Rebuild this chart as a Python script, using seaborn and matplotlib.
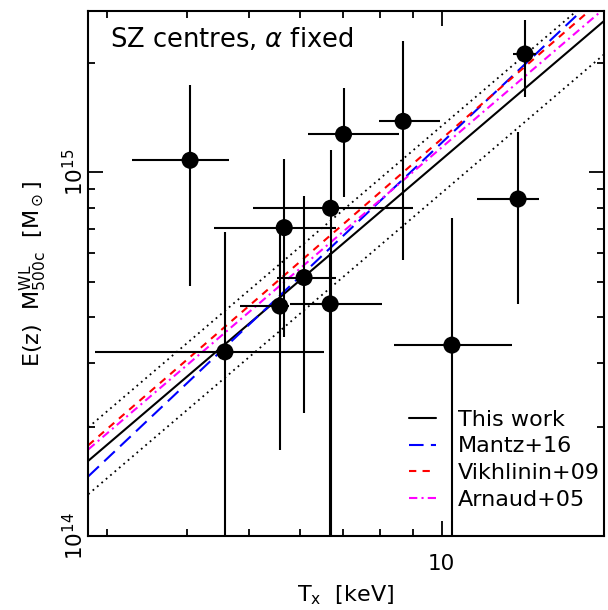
import numpy as np
import pandas as pd
import matplotlib
matplotlib.use("Agg")
import matplotlib.pyplot as plt
import matplotlib.ticker as mticker
import seaborn as sns

# cluster data: T_x [keV] with lower/upper bounds, mass [1e14 Msun] with lower/upper bounds
t_x = [4.04, 4.58, 5.58, 5.67, 6.09, 6.70, 6.69, 7.02, 8.70, 13.16, 10.37, 13.49]
t_lo = [3.28, 2.87, 4.84, 4.41, 5.53, 5.07, 5.78, 6.17, 7.98, 11.37, 8.42, 12.90]
t_hi = [4.65, 6.55, 5.76, 6.84, 6.84, 9.02, 8.05, 8.56, 9.93, 14.20, 12.87, 14.05]
mass = [10.80, 3.21, 4.29, 7.05, 5.14, 7.97, 4.35, 12.73, 13.82, 8.45, 3.35, 21.17]
m_lo = [4.86, 0.50, 1.72, 3.53, 2.18, 0.50, 0.50, 8.58, 5.74, 4.35, 0.50, 16.09]
m_hi = [17.36, 6.86, 6.80, 10.87, 8.59, 11.53, 6.00, 17.03, 23.02, 12.94, 7.49, 26.25]

# scaling relations: mass at 6 keV [1e14 Msun] and slope
rel_names = ["This work", "Mantz+16", "Vikhlinin+09", "Arnaud+05"]
rel_m6 = [5.05, 5.17, 5.68, 5.44]
rel_slope = [1.50, 1.66, 1.525, 1.503]
rel_colors = ["black", "#0000ff", "#ff0000", "#ff00ff"]
rel_styles = ["-", (0, (7, 3.5)), (0, (3.5, 3)), (0, (4, 2, 1, 2))]
scatter_dex = 0.092

x_lim = (2.8, 17.9)
y_lim = (1e14, 2.78e15)

sns.set_style("ticks")
plt.rcParams["font.family"] = ["DejaVu Sans"]
plt.rcParams["mathtext.fontset"] = "dejavusans"
plt.rcParams["text.color"] = "black"
plt.rcParams["axes.labelcolor"] = "black"

fig = plt.figure(figsize=(6.08, 6.10), dpi=100)
ax = fig.add_axes([0.1452, 0.1213, 0.8474, 0.8607])

tt = np.array(x_lim)
for name, m6, s, c, ls in zip(rel_names, rel_m6, rel_slope, rel_colors, rel_styles):
    mm = m6 * 1e14 * (tt / 6.0) ** s
    sns.lineplot(x=tt, y=mm, ax=ax, color=c, lw=1.5, linestyle=ls, label=name)
    if name == "This work":
        for sgn in (1, -1):
            sns.lineplot(x=tt, y=mm * 10 ** (sgn * scatter_dex), ax=ax, color="black",
                         lw=1.3, linestyle=(0, (1, 2.2)), legend=False)

df = pd.DataFrame({"T": t_x, "M": np.array(mass) * 1e14})
xerr = [np.array(t_x) - np.array(t_lo), np.array(t_hi) - np.array(t_x)]
yerr = [(np.array(mass) - np.array(m_lo)) * 1e14, (np.array(m_hi) - np.array(mass)) * 1e14]
ax.errorbar(df["T"], df["M"], xerr=xerr, yerr=yerr, fmt="none", ecolor="black",
            elinewidth=1.5, capsize=0, zorder=3)
sns.scatterplot(data=df, x="T", y="M", ax=ax, color="black", s=150, edgecolor="none",
                zorder=4, legend=False)

ax.set_xscale("log")
ax.set_yscale("log")
ax.set_xlim(*x_lim)
ax.set_ylim(*y_lim)
ax.xaxis.set_minor_formatter(mticker.NullFormatter())
ax.yaxis.set_minor_formatter(mticker.NullFormatter())
ax.xaxis.set_major_formatter(mticker.FuncFormatter(lambda v, p: "%d" % v))

ax.tick_params(which="both", direction="in", top=True, right=True, width=1.3, colors="black")
ax.tick_params(which="major", length=10.5, labelsize=15.5)
ax.tick_params(which="minor", length=5)
ax.tick_params(axis="x", which="major", pad=13)
ax.tick_params(axis="y", which="major", pad=1)
for lab in ax.get_yticklabels():
    lab.set_rotation(90)
    lab.set_va("center")
for sp in ax.spines.values():
    sp.set_linewidth(1.5)
    sp.set_color("black")

ax.set_xlabel(r"T$_{\rm x}$  [keV]", fontsize=16, labelpad=7)
ax.set_ylabel(r"E(z)  M$^{\rm WL}_{\rm 500c}$  [M$_\odot$]", fontsize=16, labelpad=9)
ax.text(0.043, 0.972, r"SZ centres, $\alpha$ fixed", transform=ax.transAxes,
        fontsize=18.5, va="top", ha="left")

leg = ax.legend(loc="lower right", bbox_to_anchor=(0.993, 0.05), frameon=False,
                fontsize=16, handlelength=1.2, handletextpad=1.0, labelspacing=0.3,
                borderaxespad=0, borderpad=0)

fig.savefig("out.png", dpi=100)
